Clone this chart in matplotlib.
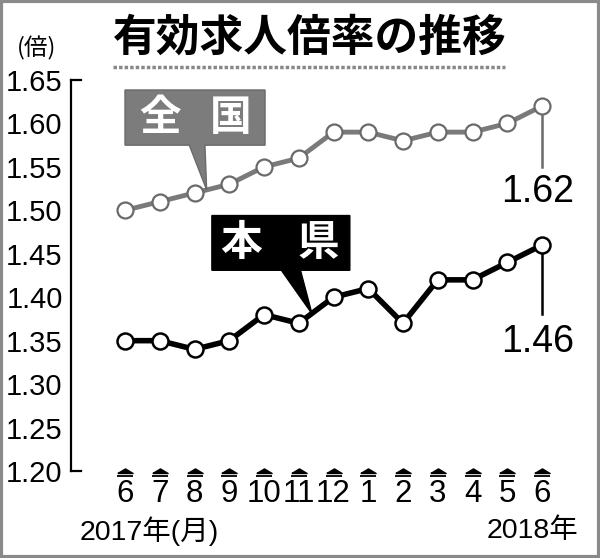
import matplotlib
matplotlib.use('Agg')
import matplotlib.pyplot as plt
from matplotlib.patches import Polygon, Rectangle

# データ
months = ['6', '7', '8', '9', '10', '11', '12', '1', '2', '3', '4', '5', '6']
zenkoku = [1.50, 1.51, 1.52, 1.53, 1.55, 1.56, 1.59, 1.59, 1.58, 1.59, 1.59, 1.60, 1.62]
honken = [1.35, 1.35, 1.34, 1.35, 1.38, 1.37, 1.40, 1.41, 1.37, 1.42, 1.42, 1.44, 1.46]
yticks = [1.20, 1.25, 1.30, 1.35, 1.40, 1.45, 1.50, 1.55, 1.60, 1.65]

NUM = 'Liberation Sans'
JP = 'Noto Sans CJK JP'

fig = plt.figure(figsize=(6.0, 5.58), dpi=100)
W, H = 600, 558
# 軸の位置 (ピクセルから)
ax = fig.add_axes([71 / W, (H - 471) / H, (590 - 71) / W, (471 - 80) / H])

x = list(range(len(months)))
ax.set_xlim(-54 / 34.75, 12 + 48 / 34.75)
ax.set_ylim(1.20, 1.65)

ax.plot(x, zenkoku, color='#7a7a7a', lw=3.5, zorder=3,
        marker='o', ms=11.5, mfc='white', mec='#6a6a6a', mew=1.6)
ax.plot(x, honken, color='black', lw=4, zorder=3,
        marker='o', ms=11.5, mfc='white', mec='black', mew=1.8)

for s in ['top', 'right', 'bottom']:
    ax.spines[s].set_visible(False)
ax.spines['left'].set_linewidth(1.6)
ax.plot([0, 0.02], [1, 1], transform=ax.transAxes, color='black', lw=1.6, clip_on=False)
ax.plot([0, 0.02], [0, 0], transform=ax.transAxes, color='black', lw=1.6, clip_on=False)

ax.set_yticks(yticks)
ax.set_yticklabels(['%.2f' % v for v in yticks], family=NUM, fontsize=21)
ax.tick_params(axis='y', length=0, pad=6)
ax.set_xticks(x)
ax.set_xticklabels(months, family=NUM, fontsize=22.5)
ax.tick_params(axis='x', length=0, pad=6)
# 目盛りの三角
tri = [(-1, 0), (1, 0), (0, 0.6), (-1, 0)]
ax.plot(x, [-0.004] * len(x), transform=ax.get_xaxis_transform(), ls='none',
        marker=tri, ms=11, color='black', clip_on=False)
ax.plot(x, [-0.012] * len(x), transform=ax.get_xaxis_transform(), ls='none',
        marker='_', ms=11, mew=1.3, color='black', clip_on=False)

# 吹き出し
def callout(x0, x1, y0, y1, bx0, bx1, tip, fc, ec, chars, cx):
    pts = [(x0, y0), (x0, y1), (x1, y1), (x1, y0), (bx1, y0), tip, (bx0, y0)]
    ax.add_patch(Polygon(pts, closed=True, fc=fc, ec=ec, lw=1, zorder=5, clip_on=False))
    for ch, xc in zip(chars, cx):
        ax.text(xc, (y0 + y1) / 2, ch, color='white', fontsize=30,
                fontweight='bold', family=JP, ha='center', va='center', zorder=6)

callout(0.0, 4.03, 1.575, 1.6385, 1.85, 2.3, (2.35, 1.5235), '#7c7c7c', '#6a6a6a',
        ['全', '国'], [1.0, 3.05])
callout(2.5, 6.47, 1.431, 1.494, 4.5, 5.05, (5.38, 1.381), 'black', 'black',
        ['本', '県'], [3.35, 5.55])

# 最新値
ax.plot([12, 12], [zenkoku[-1], 1.5496], color='#6a6a6a', lw=1.8, zorder=2)
ax.plot([12, 12], [honken[-1], 1.381], color='black', lw=1.8, zorder=2)
ax.text(11.88, 1.521, '%.2f' % zenkoku[-1], family=NUM, fontsize=27, ha='center', va='center')
ax.text(11.88, 1.348, '%.2f' % honken[-1], family=NUM, fontsize=27, ha='center', va='center')

# タイトル等
fig.text(113 / W, 1 - 38 / H, '有効求人倍率の推移', family=JP, fontsize=31.5, fontweight='bold',
         ha='left', va='center')
fig.add_artist(plt.Line2D([113 / W, 505 / W], [1 - 67 / H] * 2, color='#888888', lw=2.5, ls=(0, (1, 0.6))))
fig.text(37 / W, 1 - 48 / H, '(倍)', family=JP, fontsize=17, ha='center', va='center')
fig.text(80 / W, 1 - 531 / H, '2017年(月)', family=[NUM, JP], fontsize=20.5, ha='left', va='center')
fig.text(578 / W, 1 - 531 / H, '2018年', family=[NUM, JP], fontsize=20.5, ha='right', va='center')

fig.add_artist(Rectangle((0.002, 0.002), 0.996, 0.996, transform=fig.transFigure,
                         fill=False, ec='#8a8a8a', lw=3))

fig.savefig('out.png', dpi=100)
